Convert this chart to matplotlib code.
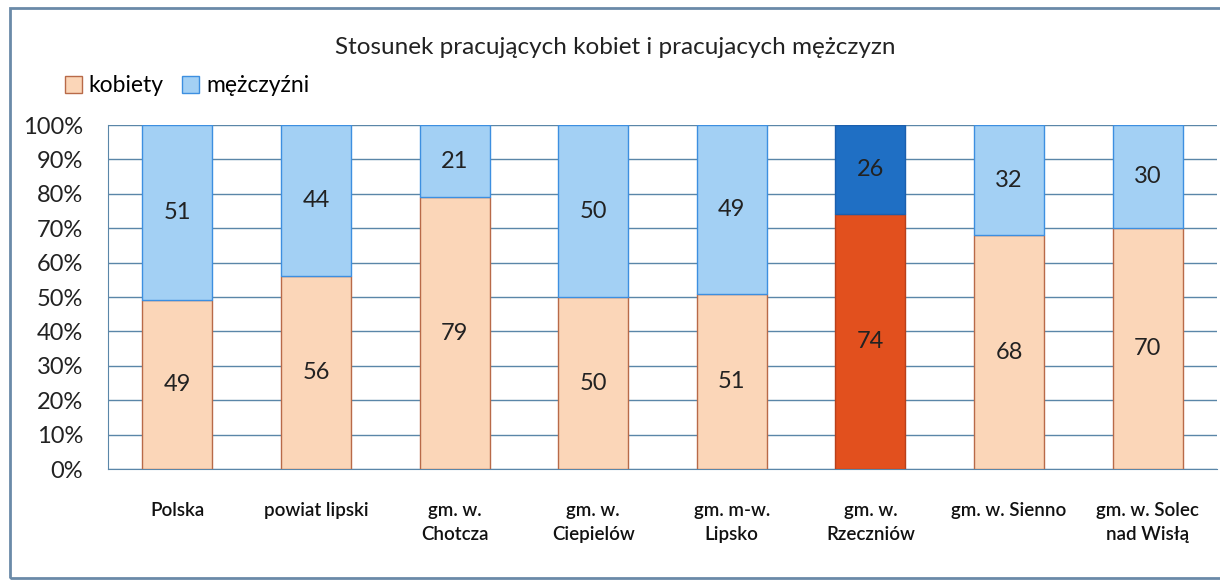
import matplotlib
matplotlib.use("Agg")
import matplotlib.pyplot as plt
from matplotlib.patches import Rectangle
import numpy as np

categories = ["Polska", "powiat lipski", "gm. w.\nChotcza", "gm. w.\nCiepielów",
              "gm. m-w.\nLipsko", "gm. w.\nRzeczniów", "gm. w. Sienno", "gm. w. Solec\nnad Wisłą"]
kobiety = [49, 56, 79, 50, 51, 74, 68, 70]
mezczyzni = [51, 44, 21, 50, 49, 26, 32, 30]
highlight = "gm. w.\nRzeczniów"

plt.rcParams['font.family'] = ['Lato', 'DejaVu Sans']

fig = plt.figure(figsize=(12.2, 5.83), dpi=100)
ax = fig.add_axes([108/1220, 1 - 469/583, (1217-108)/1220, 344/583])

x = np.arange(len(categories))
k_face = ['#e2501e' if c == highlight else '#fbd6b8' for c in categories]
k_edge = ['#b8401a' if c == highlight else '#b86a48' for c in categories]
m_face = ['#1f6fc4' if c == highlight else '#a3d0f4' for c in categories]
m_edge = ['#1a5fae' if c == highlight else '#3d8fe0' for c in categories]

bk = ax.bar(x, kobiety, width=0.505, color=k_face, edgecolor=k_edge, linewidth=1, zorder=3, label='kobiety')
bm = ax.bar(x, mezczyzni, bottom=kobiety, width=0.505, color=m_face, edgecolor=m_edge, linewidth=1, zorder=3, label='mężczyźni')

for i in range(len(categories)):
    ax.text(x[i], kobiety[i] / 2, str(kobiety[i]), ha='center', va='center', fontsize=17, color='#222222', zorder=4)
    ax.text(x[i], kobiety[i] + mezczyzni[i] / 2, str(mezczyzni[i]), ha='center', va='center', fontsize=17, color='#222222', zorder=4)

ax.set_xlim(-0.5, len(categories) - 0.5)
ax.set_ylim(0, 100)
ax.set_yticks(np.arange(0, 101, 10))
ax.set_yticklabels([f"{v}%" for v in range(0, 101, 10)], fontsize=17, color='#222222')
ax.set_xticks(x)
ax.set_xticklabels(categories, fontsize=13.5, color='#111111', fontweight='semibold', linespacing=1.45)
ax.tick_params(axis='x', length=0, pad=24)
ax.tick_params(axis='y', length=0, pad=18)
ax.grid(axis='y', color='#5a86a8', linewidth=1, zorder=0)
for s in ['top', 'right']:
    ax.spines[s].set_visible(False)
ax.spines['left'].set_color('#5a86a8')
ax.spines['bottom'].set_color('#5a86a8')

fig.text(615/1220, 1 - 47/583, "Stosunek pracujących kobiet i pracujacych mężczyzn",
         ha='center', va='center', fontsize=17.5, color='#222222')

leg = fig.legend(handles=[bk, bm], labels=['kobiety', 'mężczyźni'], loc='center left',
                 bbox_to_anchor=(44/1220, 1 - 86/583), ncol=2, frameon=False, fontsize=16.5,
                 handlelength=0.75, handleheight=0.75, handletextpad=0.3, columnspacing=0.8)
for h, fc, ec in zip(leg.legend_handles, ['#fbd6b8', '#a3d0f4'], ['#b86a48', '#3d8fe0']):
    h.set_facecolor(fc)
    h.set_edgecolor(ec)

fig.patches.append(Rectangle((10/1220, 1 - 578/583), 1.2, (578 - 8)/583, transform=fig.transFigure,
                             fill=False, edgecolor='#6a8aa8', linewidth=2))

fig.savefig("out.png", dpi=100)
